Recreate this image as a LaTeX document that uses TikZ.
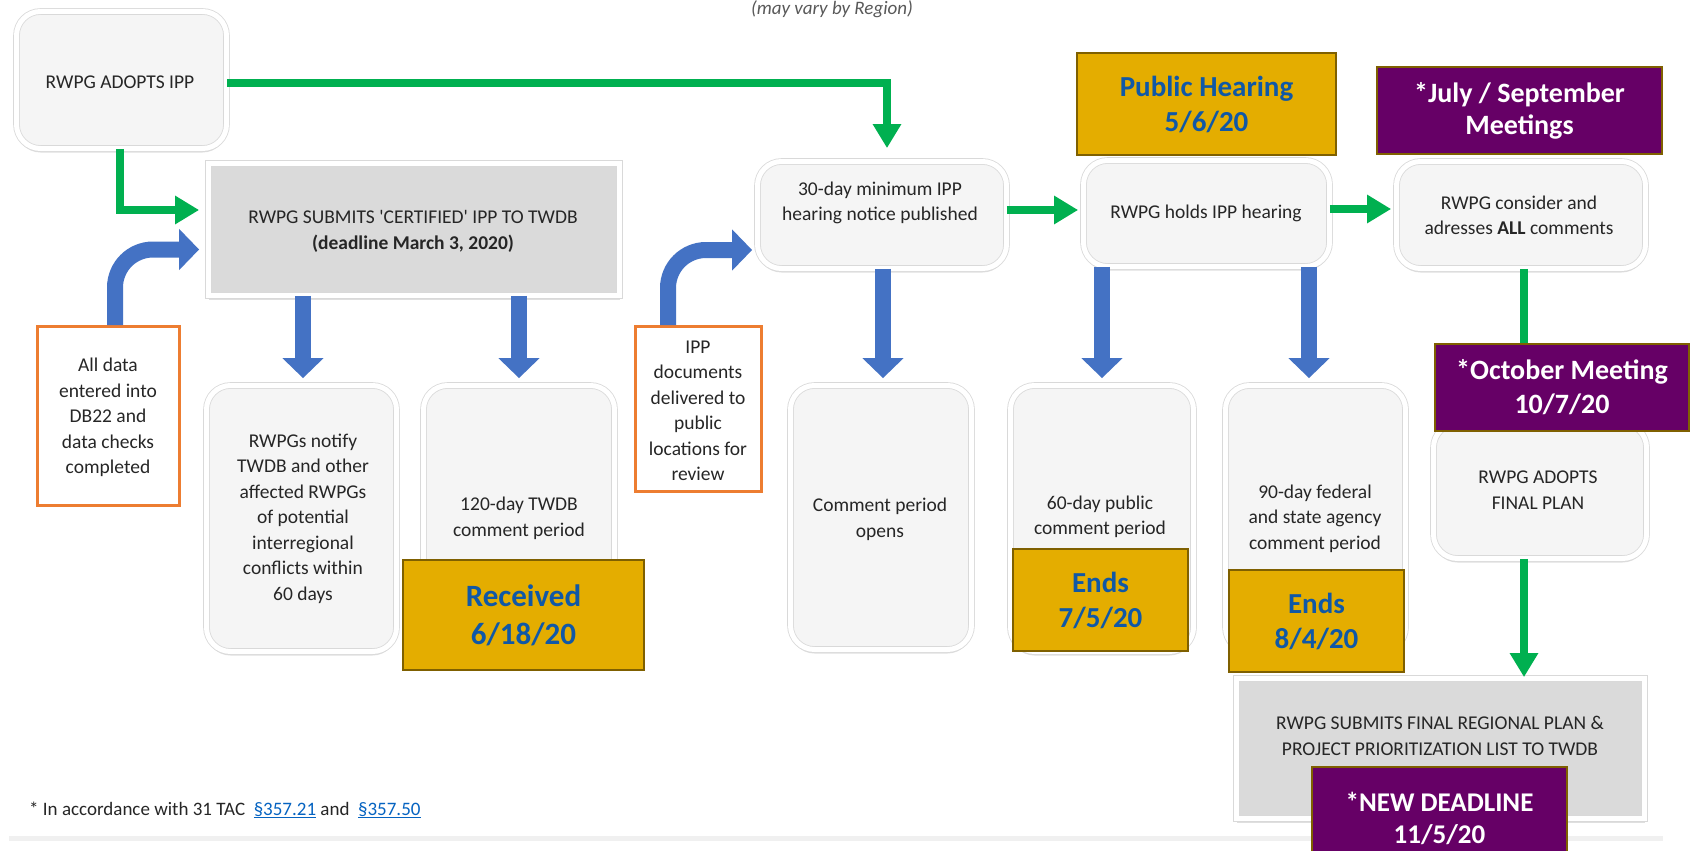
\documentclass[tikz,border=0pt]{standalone}
\usepackage{fontspec}
\setmainfont{Carlito}
\usetikzlibrary{arrows.meta,shadows,calc}
\definecolor{cardface}{HTML}{F5F5F5}
\definecolor{sqface}{HTML}{DADADA}
\definecolor{cardtext}{HTML}{262626}
\definecolor{bluec}{HTML}{4472C4}
\definecolor{greenc}{HTML}{00B050}
\definecolor{orangec}{HTML}{ED7D31}
\definecolor{goldc}{HTML}{E4AD00}
\definecolor{goldborder}{HTML}{7F6000}
\definecolor{goldtext}{HTML}{1058A6}
\definecolor{purplec}{HTML}{660066}
\definecolor{linkc}{HTML}{0563C1}
\begin{document}
\begin{tikzpicture}[x=1pt,y=-1pt,
  card/.style={draw=gray!30, double=white, double distance=5pt, line width=0.8pt,
    fill=cardface, rounded corners=24pt, inner sep=0pt,
    drop shadow={opacity=0.25, shadow xshift=0pt, shadow yshift=-4pt}},
  sqcard/.style={card, rounded corners=0pt, fill=sqface},
  txt/.style={align=center, text=cardtext, inner sep=0pt,
    font=\fontsize{19.5pt}{25.5pt}\selectfont},
  orangebox/.style={draw=orangec, line width=3pt, fill=white, inner sep=0pt},
  goldbox/.style={draw=goldborder, line width=2pt, fill=goldc, align=center,
    text=goldtext, inner sep=0pt},
  purplebox/.style={draw=goldborder, line width=2pt, fill=purplec, align=center,
    text=white, inner sep=0pt},
  garrow/.style={draw=greenc, line width=8pt, -{Triangle[width=27pt,length=24pt]}},
  gline/.style={draw=greenc, line width=8pt},
  barrow/.style={draw=bluec, line width=16pt, -{Triangle[width=40pt,length=20pt]}},
]
\useasboundingbox (0,0) rectangle (1692,851);
\clip (0,0) rectangle (1692,851);
\fill[white] (0,0) rectangle (1692,851);

% bottom band
\fill[gray!12] (9,836) rectangle (1663,841);

% subtitle
\node[anchor=base, text=gray!70!black, inner sep=0pt,
  font=\fontsize{19pt}{22pt}\selectfont\itshape] (sub) at (832,15) {(may vary by Region)};

% ---------- cards ----------
\node[card, minimum width=210pt, minimum height=137pt] (A) at (121.5,80) {};
\node[sqcard, minimum width=411pt, minimum height=132pt] (D) at (414,229.5) {};
\node[card, minimum width=190pt, minimum height=266pt] (I) at (301.5,518.5) {};
\node[card, minimum width=191pt, minimum height=264pt] (J) at (519,517.5) {};
\node[card, minimum width=249pt, minimum height=107pt] (N) at (882,215) {};
\node[card, minimum width=246pt, minimum height=106pt] (P) at (1206.5,213.5) {};
\node[card, minimum width=249pt, minimum height=107pt] (S) at (1521,215) {};
\node[card, minimum width=181pt, minimum height=264pt] (V) at (881,517.5) {};
\node[card, minimum width=183pt, minimum height=266pt] (W) at (1102,518.5) {};
\node[card, minimum width=180pt, minimum height=266pt] (Y) at (1315.5,518.5) {};
\node[card, minimum width=213pt, minimum height=135pt] (CC) at (1540,491) {};
\node[sqcard, minimum width=408pt, minimum height=140pt] (DD) at (1440.5,748.5) {};

% orange boxes
\node[orangebox, minimum width=142pt, minimum height=179pt] (F) at (108.5,416) {};
\node[orangebox, minimum width=126pt, minimum height=165pt] (M) at (698.5,409) {};

% ---------- texts ----------
\node[txt] (tA) at (120,82) {RWPG ADOPTS IPP};
\node[txt] (tD) at (413,231.5) {{\addfontfeature{Ligatures=TeXOff}RWPG SUBMITS 'CERTIFIED' IPP TO TWDB}\\\textbf{(deadline March 3, 2020)}};
\node[txt] (tI) at (303,518.5) {RWPGs notify\\TWDB and other\\affected RWPGs\\of potential\\interregional\\conflicts within\\60 days};
\node[txt] (tJ) at (519,518.5) {120-day TWDB\\comment period};
\node[txt] (tN) at (880,203) {30-day minimum IPP\\hearing notice published};
\node[txt] (tP) at (1206,213) {RWPG holds IPP hearing};
\node[txt] (tS) at (1519,215.5) {RWPG consider and\\adresses \textbf{ALL} comments};
\node[txt] (tV) at (880,519.5) {Comment period\\opens};
\node[txt] (tW) at (1100,517) {60-day public\\comment period};
\node[txt] (tY) at (1315,518.5) {90-day federal\\and state agency\\comment period};
\node[txt] (tCC) at (1538,490) {RWPG ADOPTS\\FINAL PLAN};
\node[txt] (tDD) at (1440,736) {RWPG SUBMITS FINAL REGIONAL PLAN \&\\PROJECT PRIORITIZATION LIST TO TWDB};
\node[txt] (tF) at (108,417.5) {All data\\entered into\\DB22 and\\data checks\\completed};
\node[txt] (tM) at (698,411) {IPP\\documents\\delivered to\\public\\locations for\\review};

% ---------- connectors ----------
\draw[garrow, shorten >=13pt] ([yshift=-3pt]A.east) -| ([xshift=5pt]N.north);
\draw[garrow, shorten >=9pt] ([xshift=-1.5pt]A.south) |- ([yshift=19.5pt]D.west);
\draw[barrow, rounded corners=38pt, shorten >=9pt] ([xshift=6.5pt]F.north) |- ([yshift=-20pt]D.west);
\draw[barrow, rounded corners=38pt, shorten >=5pt] ([xshift=-30.5pt]M.north) |- ([yshift=-35pt]N.west);
\draw[barrow, shorten >=7pt] ([xshift=1.5pt]I.north |- D.south) -- ([xshift=1.5pt]I.north);
\draw[barrow, shorten >=7pt] (J.north |- D.south) -- (J.north);
\draw[barrow, shorten >=7pt] ([xshift=2pt]V.north |- N.south) -- ([xshift=2pt]V.north);
\draw[barrow, shorten >=7pt] (W.north |- P.south) -- (W.north);
\draw[barrow, shorten >=7pt] ([xshift=-6.5pt]Y.north |- P.south) -- ([xshift=-6.5pt]Y.north);
\draw[garrow, shorten >=5pt] ([yshift=5pt]N.east) -- ([yshift=5pt]N.east -| P.west);
\draw[garrow, shorten >=5pt] ([yshift=4.5pt]P.east) -- ([yshift=4.5pt]P.east -| S.west);
\draw[gline] ([xshift=3pt]S.south) -- ([xshift=3pt]S.south |- CC.north);
\draw[garrow, shorten >=1pt] ([xshift=3pt]S.south |- CC.south) -- ([xshift=3pt]S.south |- DD.north);

% ---------- gold and purple labels ----------
\node[goldbox, minimum width=241pt, minimum height=110pt,
  font=\fontsize{31pt}{38pt}\selectfont\bfseries] (K) at (523.5,615) {Received\\6/18/20};
\node[goldbox, minimum width=259pt, minimum height=102pt,
  font=\fontsize{29pt}{35pt}\selectfont\bfseries] (Q) at (1206.5,104) {Public Hearing\\5/6/20};
\node[goldbox, minimum width=175pt, minimum height=102pt,
  font=\fontsize{29pt}{35pt}\selectfont\bfseries] (X) at (1100.5,600) {Ends\\7/5/20};
\node[goldbox, minimum width=175pt, minimum height=102pt,
  font=\fontsize{29pt}{35pt}\selectfont\bfseries] (Z) at (1316.5,621) {Ends\\8/4/20};
\node[purplebox, minimum width=285pt, minimum height=87pt,
  font=\fontsize{28pt}{32pt}\selectfont\bfseries] (T) at (1519.5,110.5) {*July / September\\Meetings};
\node[purplebox, minimum width=254pt, minimum height=87pt,
  font=\fontsize{28pt}{34pt}\selectfont\bfseries] (BB) at (1562,387.5) {*October Meeting\\10/7/20};
\node[purplebox, minimum width=255pt, minimum height=102pt,
  font=\fontsize{27pt}{32pt}\selectfont\bfseries] (EE) at (1439.5,818) {\raisebox{7pt}{\parbox{250pt}{\centering *NEW DEADLINE\\11/5/20}}};

% footer
\node[anchor=base west, inner sep=0pt, text=cardtext,
  font=\fontsize{19pt}{22pt}\selectfont] (foot) at (29,815)
  {* In accordance with 31 TAC\ \ \textcolor{linkc}{\underline{§357.21}} and\ \ \textcolor{linkc}{\underline{§357.50}}};
\end{tikzpicture}
\end{document}
